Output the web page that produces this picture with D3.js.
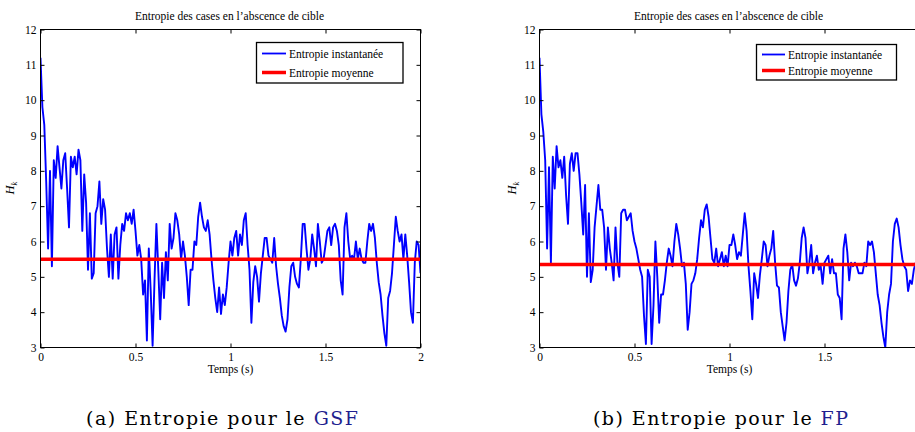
<!DOCTYPE html>
<html><head><meta charset="utf-8">
<script src="https://cdn.jsdelivr.net/npm/d3@7"></script>
<style>
body{margin:0;background:#fff;}
svg{display:block;}
text{font-family:"Liberation Serif","Times New Roman",serif;fill:#000;}
</style>
</head><body>
<svg id="chart" width="915" height="432"></svg>
<script>
// ---------- data ----------
const sampleStep = 0.01; // seconds between samples
const xTicks = [0, 0.5, 1, 1.5, 2];
const yTicks = [3, 4, 5, 6, 7, 8, 9, 10, 11, 12];
const chartTitle = "Entropie des cases en l\u2019abscence de cible";
const xLabel = "Temps (s)";
const legendLabels = ["Entropie instantanée", "Entropie moyenne"];

const entropyGSF = [
11.2,9.8,9.3,7.7,5.8,8.0,5.3,8.3,7.8,8.7,
8.1,7.5,8.3,8.5,7.5,6.4,8.4,8.1,8.4,7.9,
8.6,8.3,6.3,7.9,7.1,5.2,6.8,4.95,5.1,6.8,
7.0,7.7,6.5,7.2,6.9,5.8,5.0,6.2,4.95,6.2,
6.4,4.95,5.9,6.5,6.3,6.8,6.6,6.8,6.5,6.9,
6.3,5.6,5.9,5.5,4.5,4.9,3.2,5.8,4.6,3.05,
4.9,6.5,5.2,3.8,5.4,4.4,5.7,4.9,6.5,5.8,
6.1,6.8,6.6,6.2,5.5,6.0,5.6,5.0,4.2,5.2,
5.2,6.0,5.9,6.7,7.1,6.7,6.4,6.3,6.6,6.2,
5.5,4.9,4.4,4.0,4.7,3.95,4.5,4.2,4.7,5.4,
6.0,5.6,6.1,6.3,5.6,6.2,5.9,6.6,6.8,5.9,
5.2,3.7,4.85,5.3,5.0,4.3,5.1,5.6,6.1,6.1,
5.6,5.5,5.4,6.1,5.3,4.8,4.4,3.9,3.6,3.45,
3.8,4.7,5.3,5.4,5.0,4.8,4.7,5.5,6.5,6.5,
5.8,5.2,5.5,6.2,5.8,5.3,6.5,6.0,5.4,5.5,
5.9,6.3,6.4,5.9,6.4,6.5,6.3,5.9,4.9,4.5,
6.4,6.8,6.0,5.5,5.6,5.5,6.0,5.5,5.8,5.5,
5.4,5.4,6.0,6.5,6.3,6.5,6.1,5.4,4.85,4.5,
3.9,3.4,3.05,4.4,4.6,5.1,5.9,6.7,6.3,6.0,
6.2,5.5,6.2,5.6,4.85,4.0,3.7,5.4,6.0,5.9,
5.1
];
const meanGSF = 5.5;

const entropyFP = [
11.2,9.6,9.1,8.3,5.8,8.1,5.4,8.4,7.5,8.7,
8.1,8.3,7.8,8.4,7.3,6.5,8.2,8.5,8.0,8.5,
8.5,7.9,7.1,6.2,7.6,5.0,6.8,4.85,5.2,6.4,
7.0,7.6,6.9,6.9,6.4,5.2,6.4,5.8,5.4,4.9,
6.4,5.4,5.0,6.8,6.9,6.9,6.6,6.7,6.8,6.3,
6.0,5.8,5.5,5.2,5.0,3.9,3.1,5.2,5.0,3.1,
4.2,6.0,5.0,3.7,4.5,4.5,4.9,5.4,5.8,5.6,
5.3,6.0,6.5,6.2,5.8,5.3,5.4,4.8,3.5,4.0,
4.8,4.9,5.1,5.5,6.1,6.6,6.4,6.9,7.05,6.7,
6.1,5.5,5.4,5.8,5.3,5.5,5.7,5.3,5.6,5.3,
5.9,5.9,6.2,5.9,5.5,5.7,5.6,6.2,6.8,6.3,
5.3,4.6,3.8,5.1,4.8,4.4,5.05,5.5,6.0,5.9,
5.3,5.6,5.8,6.3,5.4,4.75,4.7,4.0,3.6,3.2,
3.7,4.6,5.2,5.35,4.9,4.75,4.95,5.4,6.1,6.4,
6.1,5.1,5.4,5.9,5.1,5.4,5.6,5.2,5.3,4.8,
5.4,5.5,5.6,5.1,5.5,5.1,5.1,4.5,4.4,3.8,
5.8,6.2,5.7,4.9,5.4,5.3,5.4,5.3,5.1,5.1,
5.1,5.4,5.3,6.0,5.9,6.0,5.7,5.1,4.5,4.2,
3.7,3.3,3.0,4.0,4.5,4.8,6.0,6.5,6.65,6.4,
5.9,5.5,5.3,5.2,4.6,4.9,4.8,5.2,5.4,5.5,
5.3
];
const meanFP = 5.35;

const panels = [
  {left: 40.5, values: entropyGSF, mean: meanGSF, tag: "(a)", acronym: "GSF",
   legend: {x: 256.5, y: 42.5, w: 146.5, h: 40.5, lineX: [262, 286], textX: 289, rows: [53.5, 72.5]},
   caption: {x: 86, w: 272}, yLabelX: 14},
  {left: 539.5, values: entropyFP, mean: meanFP, tag: "(b)", acronym: "FP",
   legend: {x: 756.5, y: 44.5, w: 140, h: 35.5, lineX: [762, 785], textX: 788, rows: [54.5, 70.5]},
   caption: {x: 593, w: 255}, yLabelX: 516}
];

// ---------- drawing ----------
const svg = d3.select("#chart");
const canvasW = 915;
const plotTop = 29.5, plotBottom = 347.5, plotW = 380;

panels.forEach((p, k) => {
  const x = d3.scaleLinear().domain([0, 2]).range([p.left, p.left + plotW]);
  const y = d3.scaleLinear().domain([3, 12]).range([plotBottom, plotTop]);
  const g = svg.append("g");

  const clipId = "clip" + k;
  svg.append("clipPath").attr("id", clipId).append("rect")
    .attr("x", p.left).attr("y", plotTop).attr("width", plotW).attr("height", plotBottom - plotTop);

  const plot = g.append("g").attr("clip-path", `url(#${clipId})`);
  const line = d3.line().x((d, i) => x(i * sampleStep)).y(d => y(d));
  plot.append("path").datum(p.values).attr("d", line)
    .attr("fill", "none").attr("stroke", "#0000ff").attr("stroke-width", 1.9)
    .attr("stroke-linejoin", "round");
  plot.append("line")
    .attr("x1", x(0)).attr("x2", x(2)).attr("y1", y(p.mean)).attr("y2", y(p.mean))
    .attr("stroke", "#ff0000").attr("stroke-width", 3.5);

  // axes (ticks inward, MATLAB style); labels only where they fit on the page
  const visibleTicks = xTicks.filter(t => x(t) + 4 <= canvasW);
  const fs = "11.5px";
  const ax = g.append("g").attr("transform", `translate(0,${plotBottom})`)
    .call(d3.axisBottom(x).tickValues(visibleTicks).tickFormat(d3.format("")).tickSizeInner(-4).tickSizeOuter(0).tickPadding(5));
  const ay = g.append("g").attr("transform", `translate(${p.left},0)`)
    .call(d3.axisLeft(y).tickValues(yTicks).tickSizeInner(-4).tickSizeOuter(0).tickPadding(4));
  const at = g.append("g").attr("transform", `translate(0,${plotTop})`)
    .call(d3.axisTop(x).tickValues(visibleTicks).tickFormat("").tickSizeInner(-4).tickSizeOuter(0));
  const ar = g.append("g").attr("transform", `translate(${p.left + plotW},0)`)
    .call(d3.axisRight(y).tickValues(yTicks).tickFormat("").tickSizeInner(-4).tickSizeOuter(0));
  [ax, ay, at, ar].forEach(a => {
    a.select(".domain").remove();
    a.selectAll("line").attr("stroke", "#000");
    a.selectAll("text").attr("font-size", fs).attr("font-family", "Liberation Serif").attr("fill", "#000");
  });
  g.append("rect").attr("x", p.left).attr("y", plotTop).attr("width", plotW).attr("height", plotBottom - plotTop)
    .attr("fill", "none").attr("stroke", "#000").attr("stroke-width", 1);

  // title & labels
  g.append("text").attr("x", p.left + plotW / 2 - 1).attr("y", 19.5).attr("text-anchor", "middle")
    .attr("font-size", "11.5px").text(chartTitle);
  g.append("text").attr("x", p.left + plotW / 2).attr("y", 372.5).attr("text-anchor", "middle")
    .attr("font-size", "11.5px").text(xLabel);
  const yl = g.append("text").attr("transform", `translate(${p.yLabelX},188) rotate(-90)`)
    .attr("text-anchor", "middle").attr("font-size", "12.5px").attr("font-style", "italic");
  yl.append("tspan").text("H");
  yl.append("tspan").attr("font-size", "8.5px").attr("dy", 3).text("k");

  // legend
  const L = p.legend;
  g.append("rect").attr("x", L.x).attr("y", L.y).attr("width", L.w).attr("height", L.h)
    .attr("fill", "#fff").attr("stroke", "#000").attr("stroke-width", 1.3);
  const legendColors = ["#0000ff", "#ff0000"], legendWidths = [1.8, 3.5];
  legendLabels.forEach((lab, j) => {
    g.append("line").attr("x1", L.lineX[0]).attr("x2", L.lineX[1]).attr("y1", L.rows[j]).attr("y2", L.rows[j])
      .attr("stroke", legendColors[j]).attr("stroke-width", legendWidths[j]);
    g.append("text").attr("x", L.textX).attr("y", L.rows[j] + 4).attr("font-size", "11.5px").text(lab);
  });

  // caption
  const cap = svg.append("text").attr("x", p.caption.x).attr("y", 425)
    .attr("font-family", "DejaVu Serif").attr("font-size", "19px")
    .attr("textLength", p.caption.w).attr("lengthAdjust", "spacing");
  cap.append("tspan").attr("font-family", "DejaVu Serif").text(p.tag + " Entropie pour le ");
  cap.append("tspan").attr("font-family", "DejaVu Serif").attr("fill", "#1f1f8f").text(p.acronym);
});
</script>
</body></html>
